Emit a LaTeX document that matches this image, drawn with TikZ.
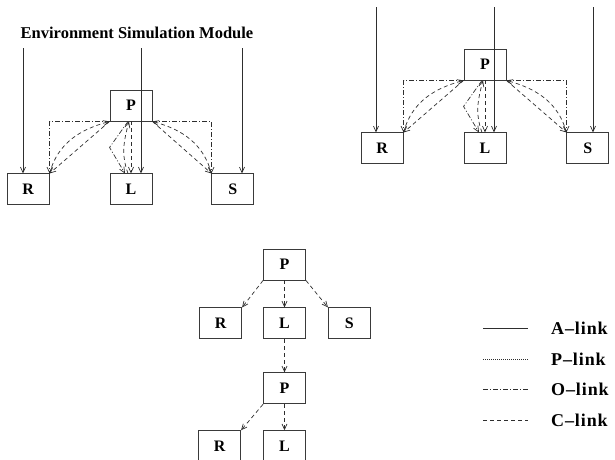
\documentclass[tikz,border=0pt]{standalone}
\usepackage{fontspec}
\setmainfont{Liberation Serif}
\newfontfamily\legendfont[LetterSpace=5]{Liberation Serif}
\usetikzlibrary{arrows.meta,positioning,calc}
\definecolor{linkGray}{HTML}{2E2E2E}
\definecolor{boxGray}{HTML}{3A3A3A}

\begin{document}
\begin{tikzpicture}[
  x=1pt,y=-1pt,
  agent/.style={rectangle,draw=boxGray,line width=0.9pt,minimum width=42pt,minimum height=31pt,inner sep=0pt,font=\fontsize{16}{16}\selectfont\bfseries},
  tip/.style={-{Straight Barb[length=5.5pt,width=5pt]}},
  alink/.style={linkGray,line width=0.7pt},
  plink/.style={linkGray,line width=0.7pt,dash pattern=on 1pt off 1pt},
  olink/.style={linkGray,line width=0.7pt,dash pattern=on 5pt off 2pt on 1pt off 2pt},
  clink/.style={linkGray,line width=0.7pt,dash pattern=on 4pt off 3pt},
  legendtext/.style={anchor=west,inner sep=0pt,font=\legendfont\fontsize{18}{18}\selectfont\bfseries}
]
\useasboundingbox (0,0) rectangle (615,459);

% environment simulation module
\node[font=\fontsize{16.5}{16.5}\selectfont\bfseries] (envTitle) at (137,33) {Environment Simulation Module};
\node[agent] (envP) at (131,105.5) {P};
\node[agent,below=52pt of envP] (envL) {L};
\node[agent,left=60pt of envL] (envR) {R};
\node[agent,right=59pt of envL] (envS) {S};
\coordinate (envSrcR) at (23,48);
\coordinate (envSrcL) at (141,48);
\coordinate (envSrcS) at (242,48);
\draw[alink,tip] (envSrcR) -- (envSrcR |- envR.north);
\draw[alink,tip] (envSrcL) -- (envSrcL |- envL.north);
\draw[alink,tip] (envSrcS) -- (envSrcS |- envS.north);
\draw[olink,tip] (envP.south west) -| (envR.north east);
\draw[clink,tip] (envR.north east) to[out=75,in=195] (envP.south west);
\draw[clink,tip] (envP.south west) -- (envR.north east);
\draw[olink,tip] ([xshift=-3pt]envP.south) -- ($(envP.south west)!0.5!(envL.north west)$) -- ([xshift=-6pt]envL.north);
\draw[clink,tip] ([xshift=-3pt]envL.north) to[out=110,in=-105] ([xshift=-2pt]envP.south);
\draw[clink,tip] (envP.south) -- (envL.north);
\draw[olink,tip] (envP.south east) -| (envS.north west);
\draw[clink,tip] (envS.north west) to[out=105,in=-15] (envP.south east);
\draw[clink,tip] (envP.south east) -- (envS.north west);

% second module, fed from above
\node[agent] (modP) at (485,64.5) {P};
\node[agent,below=52pt of modP] (modL) {L};
\node[agent,left=60pt of modL] (modR) {R};
\node[agent,right=60pt of modL] (modS) {S};
\coordinate (modSrcR) at (376,7);
\coordinate (modSrcL) at (494,7);
\coordinate (modSrcS) at (593,7);
\draw[alink,tip] (modSrcR) -- (modSrcR |- modR.north);
\draw[alink,tip] (modSrcL) -- (modSrcL |- modL.north);
\draw[alink,tip] (modSrcS) -- (modSrcS |- modS.north);
\draw[olink,tip] (modP.south west) -| (modR.north east);
\draw[clink,tip] (modR.north east) to[out=75,in=195] (modP.south west);
\draw[clink,tip] (modP.south west) -- (modR.north east);
\draw[olink,tip] ([xshift=-3pt]modP.south) -- ($(modP.south west)!0.5!(modL.north west)$) -- ([xshift=-6pt]modL.north);
\draw[clink,tip] ([xshift=-3pt]modL.north) to[out=110,in=-105] ([xshift=-2pt]modP.south);
\draw[clink,tip] (modP.south) -- (modL.north);
\draw[olink,tip] (modP.south east) -| (modS.north west);
\draw[clink,tip] (modS.north west) to[out=105,in=-15] (modP.south east);
\draw[clink,tip] (modP.south east) -- (modS.north west);

% composition tree
\node[agent] (treeP) at (284.5,264.5) {P};
\node[agent,below=27pt of treeP] (treeL) {L};
\node[agent,left=21pt of treeL] (treeR) {R};
\node[agent,right=22pt of treeL] (treeS) {S};
\node[agent,below=33pt of treeL] (subP) {P};
\node[agent,below=26pt of subP] (subL) {L};
\node[agent,left=22pt of subL] (subR) {R};
\draw[clink,tip] (treeP.south west) -- (treeR.north east);
\draw[clink,tip] (treeP.south) -- (treeL.north);
\draw[clink,tip] (treeP.south east) -- (treeS.north west);
\draw[clink,tip] (treeL.south) -- (subP.north);
\draw[clink,tip] (subP.south west) -- (subR.north east);
\draw[clink,tip] (subP.south) -- (subL.north);

% legend
\node[legendtext] (aLabel) at (551,328) {A–link};
\node[legendtext] (pLabel) at (551,359) {P–link};
\node[legendtext] (oLabel) at (551,389) {O–link};
\node[legendtext] (cLabel) at (551,420) {C–link};
\draw[alink] ([xshift=-68pt]aLabel.west) -- ([xshift=-23pt]aLabel.west);
\draw[plink] ([xshift=-68pt]pLabel.west) -- ([xshift=-23pt]pLabel.west);
\draw[olink] ([xshift=-68pt]oLabel.west) -- ([xshift=-23pt]oLabel.west);
\draw[clink] ([xshift=-68pt]cLabel.west) -- ([xshift=-23pt]cLabel.west);
\end{tikzpicture}
\end{document}
